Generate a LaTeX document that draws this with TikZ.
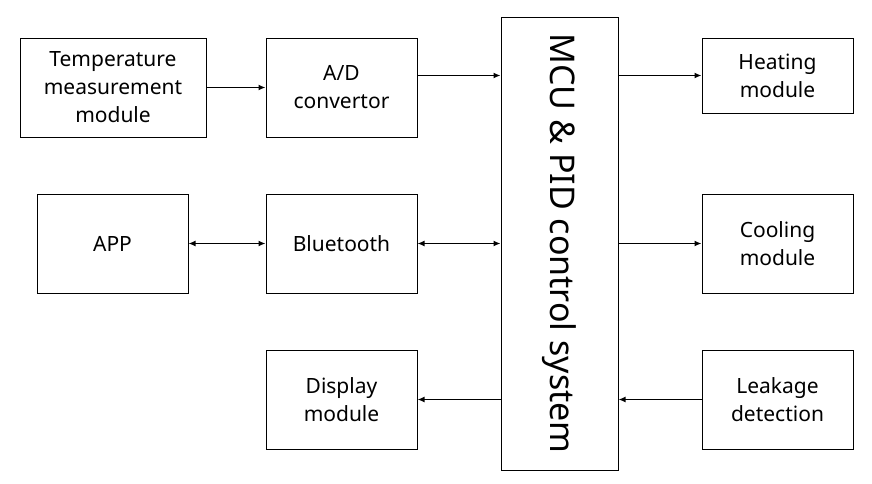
\documentclass[tikz,border=0pt]{standalone}
\usepackage{fontspec}
\setmainfont{Noto Sans}
\usetikzlibrary{arrows.meta}
\begin{document}
\begin{tikzpicture}[x=1pt,y=-1pt,
  blk/.style={draw, line width=1pt, align=center, inner sep=0pt, font=\fontsize{21}{28}\selectfont},
  arr/.style={line width=1.8pt, -{Latex[length=7pt,width=6pt]}},
  darr/.style={line width=1.8pt, {Latex[length=7pt,width=6pt]}-{Latex[length=7pt,width=6pt]}}]
\useasboundingbox (0,0) rectangle (872,483);
\fill[white] (0,0) rectangle (872,483);
\node[blk, minimum width=186pt, minimum height=99pt] (temp) at (113,87.5) {Temperature\\measurement\\module};
\node[blk, minimum width=151pt, minimum height=99pt] (ad) at (341.5,87.5) {A/D\\convertor};
\node[blk, minimum width=117pt, minimum height=453pt] (mcu) at (559.5,243.5) {};
\node[font=\fontsize{34}{36}\selectfont, rotate=-90] (mcutext) at (mcu.center) {MCU \& PID control system};
\node[blk, minimum width=151pt, minimum height=75pt] (heat) at (777.5,75.5) {Heating\\module};
\node[blk, minimum width=151pt, minimum height=99pt] (app) at (112.5,243.5) {APP};
\node[blk, minimum width=151pt, minimum height=99pt] (bt) at (341.5,243.5) {Bluetooth};
\node[blk, minimum width=151pt, minimum height=99pt] (cool) at (777.5,243.5) {Cooling\\module};
\node[blk, minimum width=151pt, minimum height=99pt] (disp) at (341.5,399.5) {Display\\module};
\node[blk, minimum width=151pt, minimum height=99pt] (leak) at (777.5,399.5) {Leakage\\detection};
\draw[arr] (temp.east) -- (ad.west);
\draw[arr] (ad.east |- heat) -- (mcu.west |- heat);
\draw[arr] (mcu.east |- heat) -- (heat.west);
\draw[darr] (app.east) -- (bt.west);
\draw[darr] (bt.east) -- (mcu.west |- bt);
\draw[arr] (mcu.east |- cool) -- (cool.west);
\draw[arr] (mcu.west |- disp) -- (disp.east);
\draw[arr] (leak.west) -- (mcu.east |- leak);
\end{tikzpicture}
\end{document}
